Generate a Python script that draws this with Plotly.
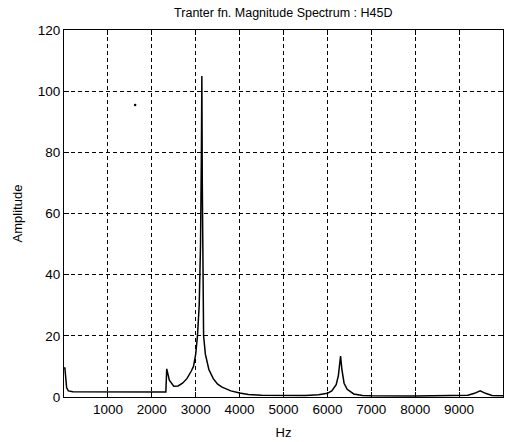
import plotly.graph_objects as go

# Values
freq_hz = [0, 20, 60, 100, 200, 1000, 2000, 2320, 2340, 2400, 2500, 2600, 2700, 2800,
           2900, 2950, 3000, 3040, 3080, 3110, 3130, 3140, 3150, 3165, 3180, 3220,
           3300, 3400, 3500, 3600, 3800, 4000, 4200, 4500, 5000, 5500, 5800, 6000,
           6100, 6200, 6250, 6300, 6330, 6380, 6450, 6600, 6800, 7000, 8000, 9000,
           9200, 9350, 9480, 9600, 9750, 10000]
amplitude = [9.5, 9.5, 3.0, 2.0, 1.7, 1.6, 1.6, 1.6, 9.2, 5.5, 3.5, 3.6, 4.5, 6.0,
             8.5, 10.0, 14.0, 20.0, 30.0, 50.0, 80.0, 105.0, 70.0, 40.0, 20.0, 14.0,
             9.0, 6.0, 4.2, 3.2, 2.0, 1.3, 0.8, 0.6, 0.5, 0.5, 0.7, 1.2,
             2.0, 4.0, 7.0, 13.4, 9.0, 4.5, 2.5, 1.0, 0.5, 0.4, 0.3, 0.4,
             0.6, 1.2, 2.0, 1.2, 0.5, 0.4]
speck_hz = [1620]
speck_amp = [95.5]

x_tickvals = [1000, 2000, 3000, 4000, 5000, 6000, 7000, 8000, 9000]
y_tickvals = [0, 20, 40, 60, 80, 100, 120]

fig = go.Figure()
fig.add_trace(go.Scatter(x=freq_hz, y=amplitude, mode="lines",
                         line=dict(color="black", width=1.5), showlegend=False))
fig.add_trace(go.Scatter(x=speck_hz, y=speck_amp, mode="markers",
                         marker=dict(color="black", size=2.5), showlegend=False))

font = "Liberation Sans, Arial, sans-serif"
axis_common = dict(
    showline=True, linecolor="black", linewidth=1.2, mirror="ticks",
    ticks="inside", ticklen=5, tickcolor="black",
    showgrid=True, gridcolor="black", gridwidth=1, griddash="4px,3px",
    zeroline=False, tickfont=dict(family=font, size=13.5, color="black"),
)

fig.update_layout(
    width=505, height=442,
    margin=dict(l=64, r=2, t=30, b=45),
    paper_bgcolor="white", plot_bgcolor="white",
    title=dict(text="Tranter fn. Magnitude Spectrum : H45D", x=0.561, xanchor="center",
               y=0.972, yanchor="middle",
               font=dict(family=font, size=12.5, color="black")),
    xaxis=dict(range=[0, 10000], tickvals=x_tickvals,
               title=dict(text="Hz", standoff=11, font=dict(family=font, size=13, color="black")),
               **axis_common),
    yaxis=dict(range=[0, 120], tickvals=y_tickvals,
               title=dict(text="Amplitude", standoff=12, font=dict(family=font, size=13, color="black")),
               **axis_common),
)

fig.write_html("out.html", config={"displayModeBar": False},
               post_script="document.body.style.margin='0';document.body.style.overflow='hidden';")
